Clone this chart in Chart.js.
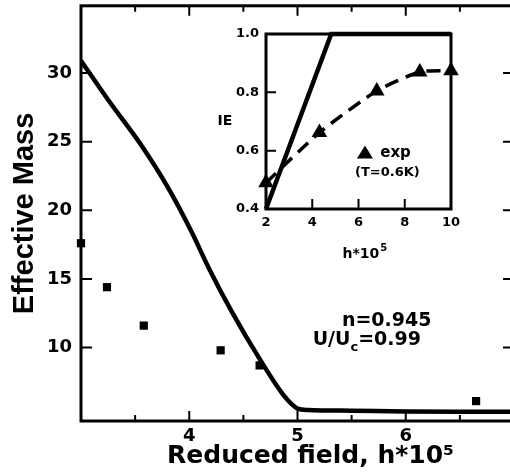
<!DOCTYPE html>
<html>
<head>
<meta charset="utf-8">
<script src="https://cdn.jsdelivr.net/npm/chart.js@4.4.1/dist/chart.umd.min.js"></script>
<style>
  html, body { margin: 0; padding: 0; background: #fff; overflow: hidden; }
  #wrap { position: relative; width: 510px; height: 475px; overflow: hidden; }
  #main { position: absolute; left: 0; top: 0; }
  #inset { position: absolute; left: 190px; top: 0; }
</style>
</head>
<body>
<div id="wrap">
  <canvas id="main" width="520" height="475"></canvas>
  <canvas id="inset" width="300" height="275"></canvas>
</div>
<script>
// main panel: effective mass vs reduced field
const curveX = [3.0, 3.25, 3.56, 3.8, 4.02, 4.18, 4.39, 4.64, 4.86, 4.95, 5.0, 5.1, 5.5, 6.0, 6.5, 7.0];
const curveY = [30.9, 28.05, 24.7, 21.7, 18.45, 15.8, 12.65, 9.3, 6.65, 5.85, 5.55, 5.45, 5.4, 5.35, 5.33, 5.33];
const expX = [3.0, 3.24, 3.58, 4.29, 4.65, 6.65];
const expY = [17.6, 14.4, 11.6, 9.8, 8.7, 6.1];
const xTicks = [4, 5, 6];
const xMinor = [3.5, 4.5, 5.5, 6.5];
const yTicks = [10, 15, 20, 25, 30];

// inset: IE vs h*10^5
const ieTheoryX = [2, 4.82, 10];
const ieTheoryY = [0.4, 1.0, 1.0];
const ieExpX = [2.0, 4.31, 6.79, 8.65, 10.0];
const ieExpY = [0.49, 0.662, 0.805, 0.87, 0.874];
const insetXTicks = [2, 4, 6, 8, 10];
const insetYTicks = [0.4, 0.6, 0.8, 1.0];

const pts = (xs, ys) => xs.map((v, i) => ({x: v, y: ys[i]}));
const fixTicks = vals => s => { s.ticks = vals.map(v => ({value: v})); };
const bold = (size, family) => ({family: family || 'DejaVu Sans', weight: 'bold', size: size});
const fitX = h => s => { s.height = h; s.paddingLeft = 0; s.paddingRight = 0; s.paddingTop = 0; s.paddingBottom = 0; };
const fitY = w => s => { s.width = w; s.paddingLeft = 0; s.paddingRight = 0; s.paddingTop = 0; s.paddingBottom = 0; };

// frame round the plot area plus ticks pointing inwards
function frameTicks(id, frameWidth, marks) {
  return {
    id: id,
    afterDatasetsDraw(chart) {
      const {ctx, chartArea: a, scales: {x, y}} = chart;
      ctx.save();
      ctx.strokeStyle = '#000';
      ctx.lineWidth = frameWidth;
      ctx.strokeRect(a.left, a.top, a.right - a.left, a.bottom - a.top);
      ctx.lineWidth = 2;
      ctx.beginPath();
      marks.forEach(m => {
        m.vals.forEach(v => {
          if (m.axis === 'x') {
            const px = x.getPixelForValue(v);
            if (m.sides.includes('bottom')) { ctx.moveTo(px, a.bottom); ctx.lineTo(px, a.bottom - m.len); }
            if (m.sides.includes('top')) { ctx.moveTo(px, a.top); ctx.lineTo(px, a.top + m.len); }
          } else {
            const py = y.getPixelForValue(v);
            if (m.sides.includes('left')) { ctx.moveTo(a.left, py); ctx.lineTo(a.left + m.len, py); }
            if (m.sides.includes('right')) { ctx.moveTo(a.right, py); ctx.lineTo(a.right - m.len, py); }
          }
        });
      });
      ctx.stroke();
      ctx.restore();
    }
  };
}

const mainNotes = {
  id: 'mainNotes',
  afterDraw(chart) {
    const {ctx, scales: {x, y}} = chart;
    ctx.save();
    ctx.fillStyle = '#000';
    ctx.textAlign = 'left';
    ctx.textBaseline = 'alphabetic';
    ctx.font = 'bold 19px "DejaVu Sans"';
    ctx.fillText('n=0.945', x.getPixelForValue(5.41), y.getPixelForValue(11.6));
    let px = x.getPixelForValue(5.14);
    const py = y.getPixelForValue(10.17);
    ctx.fillText('U/U', px, py);
    px += ctx.measureText('U/U').width;
    ctx.font = 'bold 13px "DejaVu Sans"';
    ctx.fillText('c', px, py + 6);
    px += ctx.measureText('c').width;
    ctx.font = 'bold 19px "DejaVu Sans"';
    ctx.fillText('=0.99', px, py);
    ctx.restore();
  }
};

const insetNotes = {
  id: 'insetNotes',
  afterDraw(chart) {
    const {ctx, chartArea: a, scales: {x, y}} = chart;
    ctx.save();
    ctx.fillStyle = '#000';
    ctx.textAlign = 'center';
    ctx.textBaseline = 'middle';
    ctx.font = 'bold 14px "DejaVu Sans"';
    ctx.fillText('IE', a.left - 41, y.getPixelForValue(0.7));
    // x title with a raised 5
    ctx.textAlign = 'left';
    ctx.textBaseline = 'alphabetic';
    const base = 'h*10';
    const bw = ctx.measureText(base).width;
    ctx.font = 'bold 10px "DejaVu Sans"';
    const sw = ctx.measureText('5').width;
    let hx = x.getPixelForValue(6.25) - (bw + sw) / 2;
    ctx.font = 'bold 14px "DejaVu Sans"';
    ctx.fillText(base, hx, a.bottom + 49);
    ctx.font = 'bold 10px "DejaVu Sans"';
    ctx.fillText('5', hx + bw + 1, a.bottom + 42);
    // legend
    const tx = x.getPixelForValue(6.28), ty = y.getPixelForValue(0.59);
    ctx.beginPath();
    ctx.moveTo(tx, ty - 8);
    ctx.lineTo(tx + 8, ty + 5);
    ctx.lineTo(tx - 8, ty + 5);
    ctx.closePath();
    ctx.fill();
    ctx.textBaseline = 'middle';
    ctx.font = 'bold 15px "DejaVu Sans"';
    ctx.fillText('exp', x.getPixelForValue(6.94), ty);
    ctx.font = 'bold 13px "DejaVu Sans"';
    ctx.fillText('(T=0.6K)', x.getPixelForValue(5.85), y.getPixelForValue(0.524));
    ctx.restore();
  }
};

new Chart(document.getElementById('main'), {
  type: 'scatter',
  data: {
    datasets: [{
      data: pts(curveX, curveY),
      showLine: true,
      borderColor: '#000',
      borderWidth: 4.5,
      pointRadius: 0,
      pointHoverRadius: 0,
      cubicInterpolationMode: 'monotone'
    }, {
      data: pts(expX, expY),
      showLine: false,
      pointStyle: 'rect',
      pointRadius: 5.8,
      backgroundColor: '#000',
      borderWidth: 0,
      clip: false
    }]
  },
  options: {
    responsive: false,
    animation: false,
    events: [],
    layout: {padding: {left: 0, top: 4, right: 6, bottom: 0}},
    plugins: {legend: {display: false}, tooltip: {enabled: false}},
    scales: {
      x: {
        type: 'linear', min: 3, max: 7,
        afterBuildTicks: fixTicks(xTicks),
        afterFit: fitX(54),
        grid: {display: false, drawTicks: false},
        border: {display: false},
        ticks: {autoSkip: false, padding: 5, color: '#000', font: bold(18)},
        title: {display: true, text: '   Reduced field, h*10\u2075', color: '#000', font: bold(25), padding: {top: 0, bottom: 4}}
      },
      y: {
        type: 'linear', min: 4.65, max: 34.9,
        afterBuildTicks: fixTicks(yTicks),
        afterFit: fitY(81),
        grid: {display: false, drawTicks: false},
        border: {display: false},
        ticks: {autoSkip: false, padding: 9, color: '#000', font: bold(18)},
        title: {display: true, text: 'Effective Mass', color: '#000', font: bold(29, 'Liberation Sans'), padding: {top: 8, bottom: 0}}
      }
    }
  },
  plugins: [frameTicks('mainFrame', 3, [
    {axis: 'x', vals: xTicks, len: 10, sides: ['bottom', 'top']},
    {axis: 'x', vals: xMinor, len: 6, sides: ['bottom', 'top']},
    {axis: 'y', vals: yTicks, len: 11, sides: ['left', 'right']}
  ]), mainNotes]
});

new Chart(document.getElementById('inset'), {
  type: 'scatter',
  data: {
    datasets: [{
      data: pts(ieTheoryX, ieTheoryY),
      showLine: true,
      borderColor: '#000',
      borderWidth: 4.5,
      pointRadius: 0,
      pointHoverRadius: 0,
      clip: false
    }, {
      data: pts(ieExpX, ieExpY),
      showLine: true,
      borderColor: '#000',
      borderWidth: 3.5,
      borderDash: [14, 8],
      tension: 0.2,
      pointStyle: 'triangle',
      pointRadius: 9,
      pointBackgroundColor: '#000',
      pointBorderWidth: 0,
      clip: false
    }]
  },
  options: {
    responsive: false,
    animation: false,
    events: [],
    layout: {padding: {left: 0, top: 34, right: 39, bottom: 0}},
    plugins: {legend: {display: false}, tooltip: {enabled: false}},
    scales: {
      x: {
        type: 'linear', min: 2, max: 10,
        afterBuildTicks: fixTicks(insetXTicks),
        afterFit: fitX(66),
        grid: {display: false, drawTicks: false},
        border: {display: false},
        ticks: {autoSkip: false, padding: 6, color: '#000', font: bold(13)}
      },
      y: {
        type: 'linear', min: 0.4, max: 1.0,
        afterBuildTicks: fixTicks(insetYTicks),
        afterFit: fitY(76),
        grid: {display: false, drawTicks: false},
        border: {display: false},
        ticks: {autoSkip: false, padding: 7, color: '#000', font: bold(13), callback: v => v.toFixed(1)}
      }
    }
  },
  plugins: [frameTicks('insetFrame', 3, [
    {axis: 'x', vals: [4, 6, 8], len: 10, sides: ['bottom']},
    {axis: 'y', vals: [0.6, 0.8], len: 10, sides: ['left']}
  ]), insetNotes]
});
</script>
</body>
</html>
